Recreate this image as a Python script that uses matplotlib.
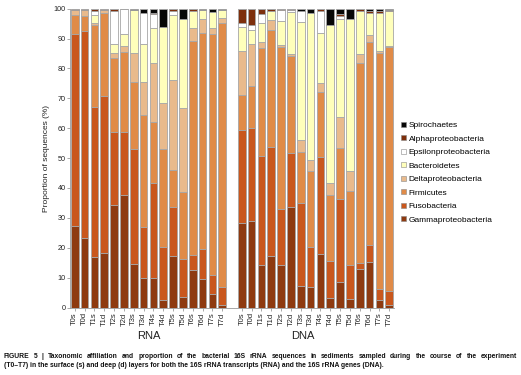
import matplotlib
matplotlib.use("Agg")
import matplotlib.pyplot as plt
import numpy as np
from matplotlib.patches import Patch

plt.rcParams['font.family'] = ['Liberation Sans', 'DejaVu Sans']

samples = ["T0s", "T0d", "T1s", "T1d", "T2s", "T2d", "T3s", "T3d",
           "T4s", "T4d", "T5s", "T5d", "T6s", "T6d", "T7s", "T7d"]
groups = ["RNA", "DNA"]

# values per taxon: first 16 = RNA, last 16 = DNA (same sample order)
gamma = [27.4, 23.2, 16.9, 18.3, 34.4, 37.6, 14.6, 10.0, 9.8, 2.6, 17.2, 3.4, 12.4, 9.6, 4.5, 0.8,
         28.4, 28.8, 14.3, 17.2, 14.3, 33.6, 7.1, 7.0, 18.0, 3.2, 8.5, 2.7, 12.9, 15.2, 2.5, 0.8]
fuso = [64.0, 69.2, 50.3, 52.5, 24.2, 21.1, 38.4, 16.9, 31.9, 17.6, 16.4, 12.9, 5.3, 10.1, 6.5, 6.2,
        30.9, 31.3, 36.4, 36.5, 18.8, 18.2, 27.8, 13.4, 32.2, 12.5, 27.9, 11.6, 2.0, 5.8, 3.8, 4.6]
firmicutes = [6.4, 5.0, 27.3, 27.9, 25.0, 26.7, 22.3, 37.5, 20.4, 32.8, 12.5, 22.3, 71.6, 72.1, 80.4, 88.3,
              11.9, 14.0, 36.0, 39.0, 54.0, 32.5, 17.0, 25.4, 22.0, 22.1, 17.1, 24.8, 67.0, 67.8, 78.9, 81.7]
delta = [1.8, 2.2, 0.6, 1.0, 1.7, 2.0, 9.8, 10.9, 19.6, 15.5, 30.0, 28.2, 4.2, 4.8, 2.1, 1.5,
         14.5, 14.0, 2.2, 3.6, 0.6, 0.5, 4.2, 3.7, 2.8, 3.9, 10.1, 6.5, 2.9, 2.4, 0.5, 0.5]
bacteroidetes = [0.0, 0.0, 2.6, 0.0, 3.0, 4.0, 14.5, 12.9, 11.8, 25.2, 21.6, 29.8, 5.8, 3.0, 5.4, 2.8,
                 8.1, 4.8, 6.3, 2.9, 8.3, 14.2, 39.4, 49.1, 17.0, 52.7, 32.9, 50.9, 14.5, 7.5, 12.9, 11.6]
epsilon = [0.0, 0.0, 1.6, 0.0, 11.0, 8.4, 0.0, 10.5, 4.7, 0.0, 1.5, 0.0, 0.0, 0.0, 0.0, 0.0,
           1.3, 1.5, 3.1, 0.0, 3.4, 0.5, 3.8, 0.0, 7.3, 0.0, 0.9, 0.0, 0.0, 0.0, 0.0, 0.0]
alpha = [0.4, 0.4, 0.7, 0.3, 0.7, 0.2, 0.0, 0.0, 0.5, 0.0, 0.8, 0.0, 0.7, 0.1, 0.0, 0.0,
         4.9, 5.6, 1.7, 0.8, 0.6, 0.5, 0.0, 0.0, 0.7, 0.0, 0.7, 0.0, 0.7, 0.5, 0.6, 0.4]
spirochaetes = [0.0, 0.0, 0.0, 0.0, 0.0, 0.0, 0.4, 1.3, 1.3, 6.3, 0.0, 3.4, 0.0, 0.3, 1.1, 0.4,
                0.0, 0.0, 0.0, 0.0, 0.0, 0.0, 0.7, 1.4, 0.0, 5.6, 1.9, 3.5, 0.0, 0.8, 0.8, 0.4]

taxa = ["Gammaproteobacteria", "Fusobacteria", "Firmicutes", "Deltaproteobacteria",
        "Bacteroidetes", "Epsilonproteobacteria", "Alphaproteobacteria", "Spirochaetes"]
series = [gamma, fuso, firmicutes, delta, bacteroidetes, epsilon, alpha, spirochaetes]
colors = ["#8e3a10", "#c9571d", "#e08b48", "#e9ba8c", "#ffffbb", "#ffffff", "#7d2f0c", "#070707"]

caption1 = ("FIGURE 5 | Taxonomic affiliation and proportion of the bacterial 16S rRNA sequences "
            "in sediments sampled during the course of the experiment")
caption2 = ("(T0\u2013T7) in the surface (s) and deep (d) layers for both the 16S rRNA transcripts "
            "(RNA) and the 16S rRNA genes (DNA).")

W, H = 521, 375
fig = plt.figure(figsize=(W / 100, H / 100), dpi=100)
ax = fig.add_axes([70/W, 0.18, 324.2/W, 0.797])

n = len(samples)
x = np.concatenate([np.arange(n), np.arange(n) + n + 1])
bottom = np.zeros(len(x))
for name, vals, c in zip(taxa, series, colors):
    v = np.array(vals)
    ax.bar(x, v, bottom=bottom, width=0.78, color=c, edgecolor="#a6a6a6", linewidth=0.6, label=name)
    bottom += v

ax.set_xlim(-0.48, 32.5)
ax.set_ylim(0, 100)
ax.set_yticks(range(0, 101, 10))
ax.set_xticks(x)
ax.set_xticklabels(samples + samples, rotation=90, fontsize=5.5, color="#222222")
ax.tick_params(axis='y', labelsize=5.2, length=2, width=0.5, color="#888888", pad=1, labelcolor="#222222")
ax.tick_params(axis='x', length=2, width=0.5, color="#888888", pad=1.5)
for s in ["top", "right"]:
    ax.spines[s].set_visible(False)
for s in ["left", "bottom"]:
    ax.spines[s].set_color("#999999")
    ax.spines[s].set_linewidth(0.6)
ax.set_ylabel("Proportion of sequences (%)", fontsize=6, color="#222222", labelpad=3)

# group labels
ax.text(np.mean(x[:n]), -0.095, groups[0], transform=ax.get_xaxis_transform(),
        ha="center", va="center", fontsize=8, color="#222222")
ax.text(np.mean(x[n:]) - 1.3, -0.095, groups[1], transform=ax.get_xaxis_transform(),
        ha="center", va="center", fontsize=8, color="#222222")

handles = [Patch(facecolor=c, edgecolor="#888888", linewidth=0.4) for c in colors][::-1]
leg = fig.legend(handles, taxa[::-1], loc="upper left", bbox_to_anchor=(398/W, 1 - 118.5/H),
                 frameon=False, fontsize=6, handlelength=0.55, handleheight=0.55,
                 handletextpad=0.35, labelspacing=0.72, borderaxespad=0)

# caption: first line justified between x=4 and x=517, second line left aligned
cap_fs = 4.85
fig.canvas.draw()
renderer = fig.canvas.get_renderer()
words = caption1.split(" ")
texts = [fig.text(0, 1 - 356/H, w, fontsize=cap_fs, fontweight="bold", va="center",
                  ha="left", color="#111111") for w in words]
widths = [t.get_window_extent(renderer).width for t in texts]
x0, x1 = 4.0, 517.0
gap = (x1 - x0 - sum(widths)) / (len(words) - 1)
pos = x0
for t, wd in zip(texts, widths):
    t.set_x(pos / W)
    pos += wd + gap
fig.text(4/W, 1 - 365.5/H, caption2, fontsize=cap_fs, fontweight="bold",
         va="center", ha="left", color="#111111")

fig.savefig("out.png", dpi=100)
